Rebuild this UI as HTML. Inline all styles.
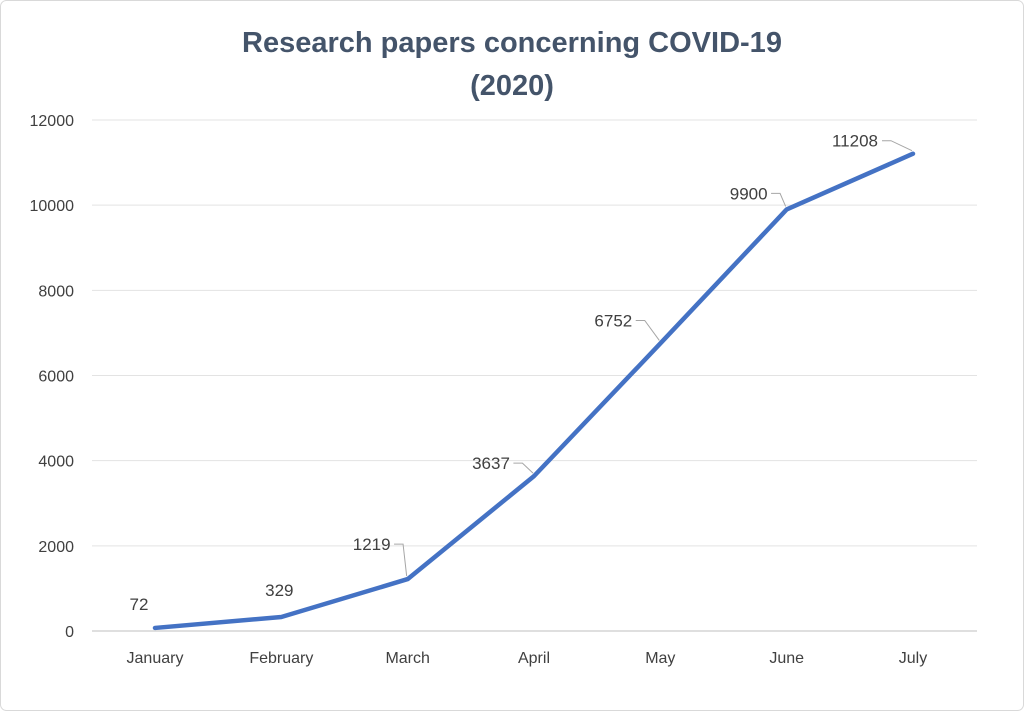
<!DOCTYPE html>
<html><head><meta charset="utf-8"><style>
body{margin:0;background:#fff;}
svg{display:block;font-family:"Liberation Sans",sans-serif;}
</style></head><body>
<svg id="chart" width="1024" height="711" viewBox="0 0 1024 711">
<rect x="0.5" y="0.5" width="1023" height="710" rx="6" fill="#fff" stroke="#d9d9d9"/>
<text x="512" y="52" text-anchor="middle" font-size="29" font-weight="bold" fill="#44546a">Research papers concerning COVID-19</text>
<text x="512" y="95" text-anchor="middle" font-size="29" font-weight="bold" fill="#44546a">(2020)</text>
<g id="grid"></g><g id="ticks"></g><g id="series"></g>
</svg>
<script>
const categories=["January","February","March","April","May","June","July"];
const values=[72,329,1219,3637,6752,9900,11208];
const yTicks=[0,2000,4000,6000,8000,10000,12000];
const labelOffsets=[[-16,-18],[-2,-21],[-36,-29],[-43,-7],[-47,-17],[-38,-10],[-58,-7]];
const NS="http://www.w3.org/2000/svg";
const L=92,R=977,y0=631,yTop=120;
function xs(i){return 155+i*(913-155)/(categories.length-1);}
function ys(v){return y0-(v/12000)*(y0-yTop);}
function mk(t,a,p){const e=document.createElementNS(NS,t);for(const k in a)e.setAttribute(k,a[k]);p.appendChild(e);return e;}
const grid=document.getElementById('grid'),ticks=document.getElementById('ticks'),ser=document.getElementById('series');
yTicks.forEach(v=>{
 const l=mk('line',{x1:L,x2:R,y1:ys(v),y2:ys(v),stroke:v===0?'#bfbfbf':'#e3e3e3','stroke-width':1},grid);
 
 
 const t=mk('text',{x:74,y:ys(v)+6,'text-anchor':'end','font-size':16,fill:'#404040'},ticks);
 t.textContent=v;
 
 
});
categories.forEach((c,i)=>{
 const t=mk('text',{x:xs(i),y:663,'text-anchor':'middle','font-size':16,fill:'#404040'},ticks);
 t.textContent=c;
 
 
});
const pts=values.map((v,i)=>xs(i)+','+ys(v)).join(' ');
const pl=mk('polyline',{points:pts,fill:'none',stroke:'#4472c4','stroke-width':4.5,'stroke-linejoin':'round','stroke-linecap':'round'},ser);


values.forEach((v,i)=>{
 const x=xs(i),y=ys(v);
 const lx=x+labelOffsets[i][0],ly=y+labelOffsets[i][1];
 const hw=String(v).length*4.6;
 if(i>=2){
  const sx=lx+hw+4;
  const ld=mk('polyline',{points:sx+','+(ly-6)+' '+(sx+9)+','+(ly-6)+' '+(x-1)+','+(y-3),fill:'none',stroke:'#a6a6a6','stroke-width':1},ser);
  
  
 }
 const t=mk('text',{x:lx,y:ly,'text-anchor':'middle','font-size':17,fill:'#404040'},ser);
 t.textContent=v;
 
 
});
</script>
</body></html>
